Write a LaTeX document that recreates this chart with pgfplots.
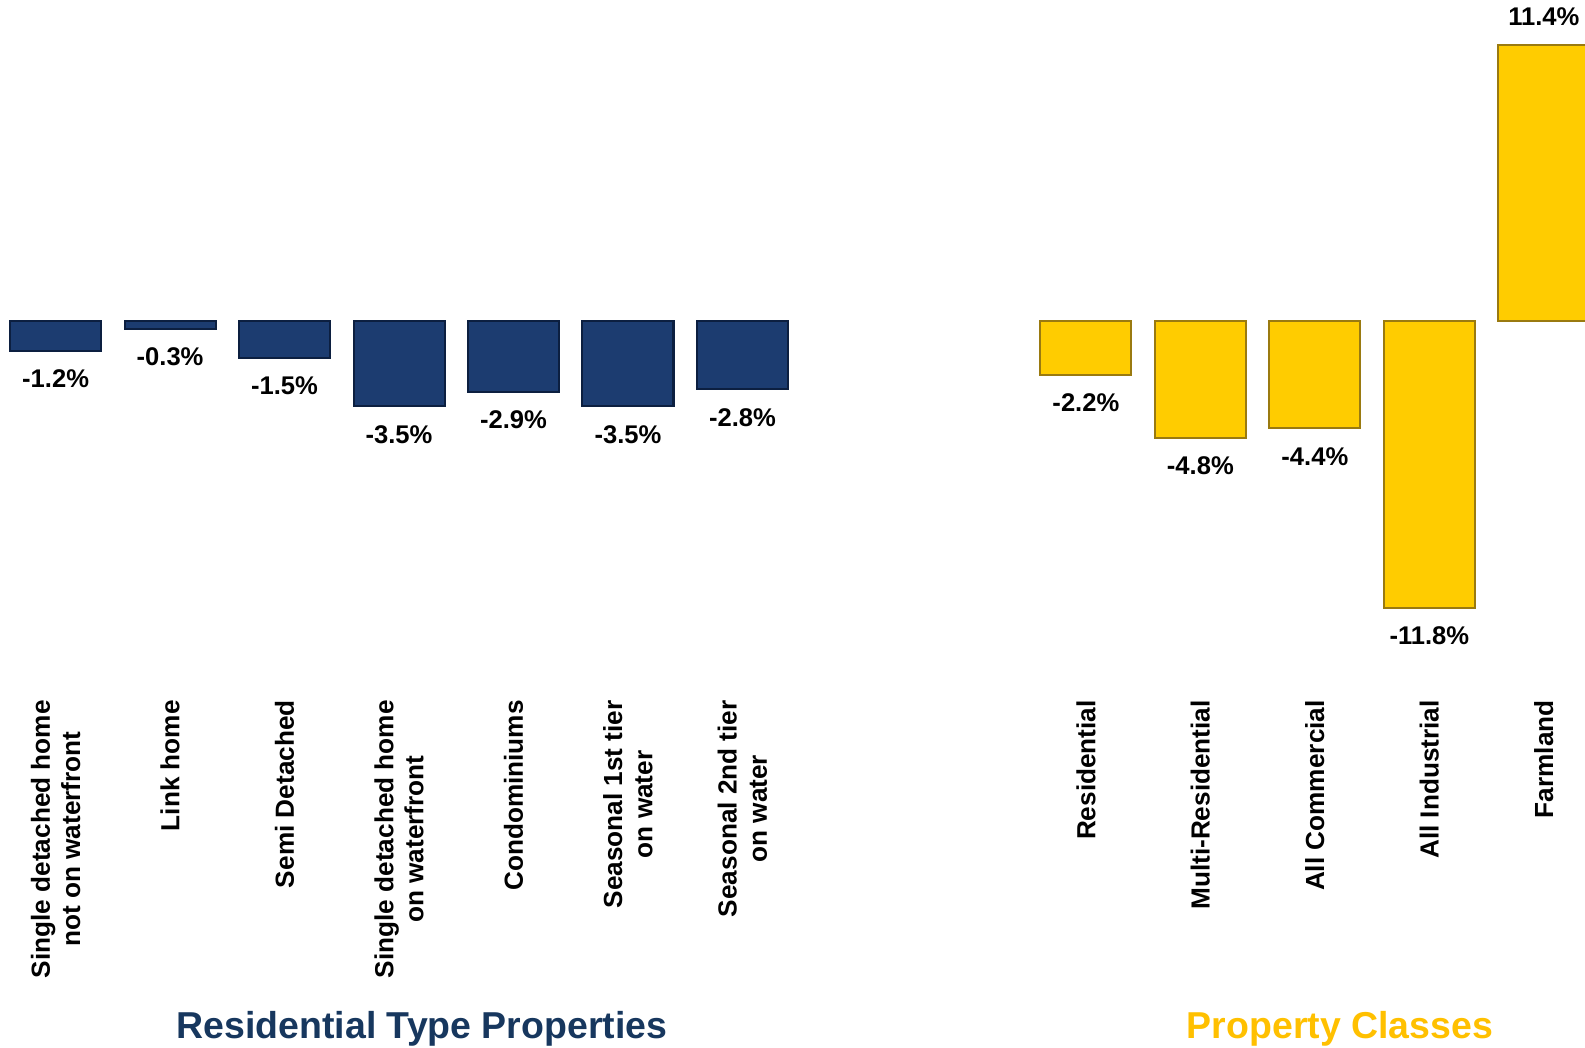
\documentclass[border=0pt]{standalone}
\usepackage{fontspec}
\setmainfont{Liberation Sans}
\usepackage{pgfplots}
\pgfplotsset{compat=1.18}
\definecolor{navy}{HTML}{1C3C70}
\definecolor{navyedge}{HTML}{0C1F40}
\definecolor{gold}{HTML}{FFCC00}
\definecolor{goldedge}{HTML}{9A7A10}
\definecolor{titlenavy}{HTML}{17375E}
\definecolor{titlegold}{HTML}{FFC000}
\begin{document}
\begin{tikzpicture}
\begin{axis}[
  scale only axis,
  width=782bp, height=346.2bp,
  xmin=-0.45, xmax=13.36, ymin=-15.6, ymax=13.25,
  clip=false,
  axis line style={draw=none},
  major tick length=0pt,
  ytick=\empty,
  xtick={0,1,2,3,4,5,6,9,10,11,12,13},
  xticklabels={{Single detached home\\not on waterfront},{Link home},{Semi Detached},{Single detached home\\on waterfront},{Condominiums},{Seasonal 1st tier\\on water},{Seasonal 2nd tier\\on water},{Residential},{Multi-Residential},{All Commercial},{All Industrial},{Farmland}},
  xticklabel style={rotate=90, anchor=east, align=center, inner sep=0pt, font=\fontsize{13}{15}\selectfont\bfseries},
  ybar, bar width=0.795,
  point meta=y,
  /pgf/number format/assume math mode=true,
  nodes near coords={\pgfmathprintnumber[fixed,fixed zerofill,precision=1]{\pgfplotspointmeta}\%},
  nodes near coords align={vertical},
  every node near coord/.append style={font=\fontsize{12.7}{15}\selectfont\bfseries, text=black, inner sep=9bp},
]
\addplot[bar shift=0pt, fill=navy, draw=navyedge, line width=1bp] coordinates {
  (0,-1.2)
  (1,-0.3)
  (2,-1.5)
  (3,-3.5)
  (4,-2.9)
  (5,-3.5)
  (6,-2.8)
};
\addplot[bar shift=0pt, fill=gold, draw=goldedge, line width=1bp] coordinates {
  (9,-2.2)
  (10,-4.8)
  (11,-4.4)
  (12,-11.8)
  (13,11.4)
};
\node[font=\fontsize{18.6}{22}\selectfont\bfseries, text=titlenavy] at (axis cs:3.2,-29.15) {Residential Type Properties};
\node[font=\fontsize{18.6}{22}\selectfont\bfseries, text=titlegold] at (axis cs:11.22,-29.15) {Property Classes};
\coordinate (bbl) at (axis cs:-0.4857,-29.917);
\coordinate (btr) at (axis cs:13.36,13.25);
\end{axis}
\pgfresetboundingbox
\path[use as bounding box] (bbl) rectangle (btr);
\end{tikzpicture}
\end{document}
